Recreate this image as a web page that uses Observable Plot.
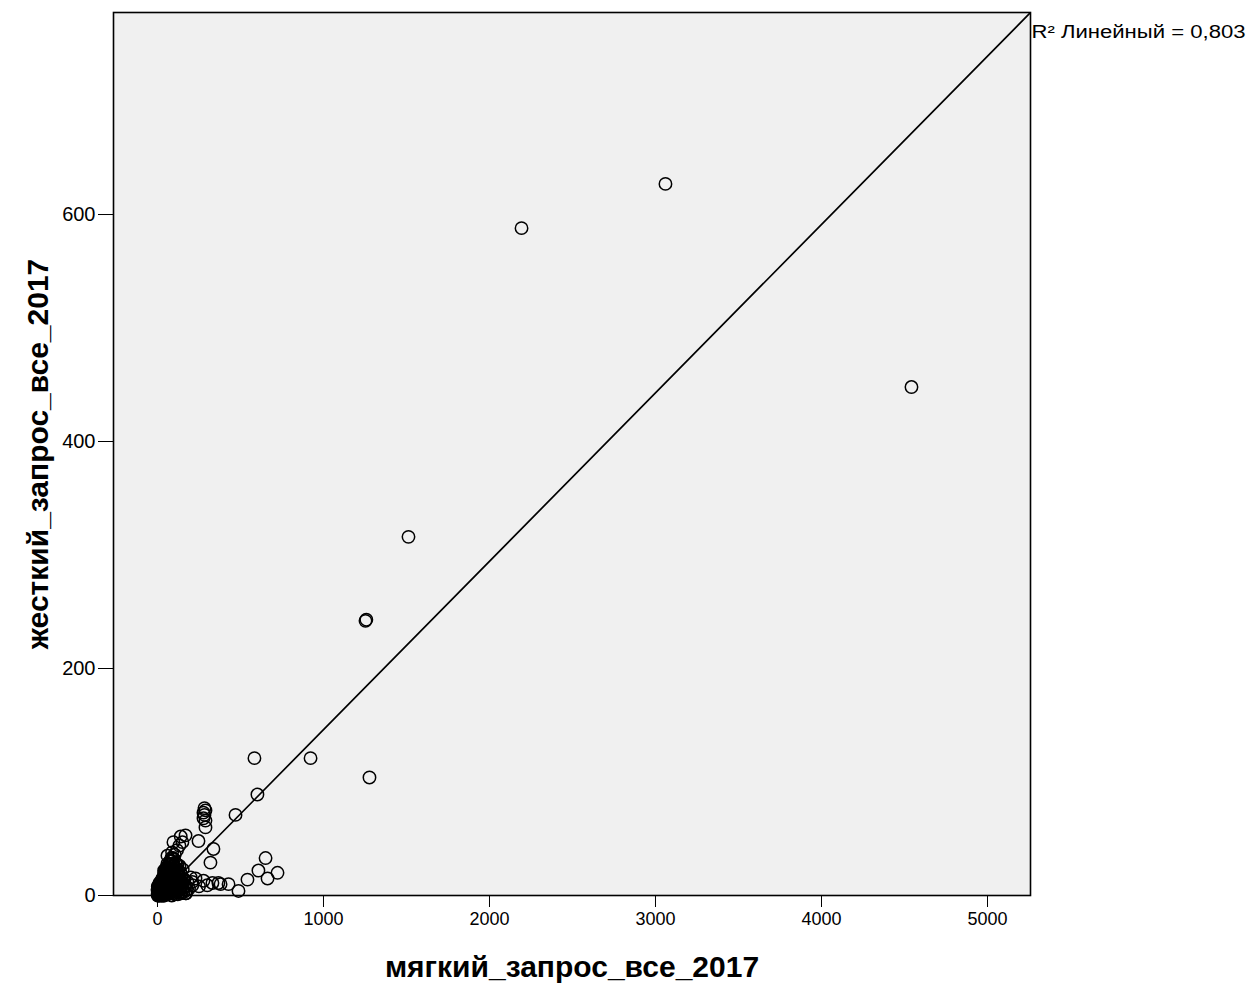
<!DOCTYPE html>
<html>
<head>
<meta charset="utf-8">
<script src="https://cdn.jsdelivr.net/npm/d3@7"></script>
<script src="https://cdn.jsdelivr.net/npm/@observablehq/plot@0.6"></script>
<style>
  html, body { margin: 0; padding: 0; background: #ffffff; }
  #chart svg { display: block; }
</style>
</head>
<body>
<div id="chart"></div>
<script>
// Axis titles and annotation
const xTitle = "мягкий_запрос_все_2017";
const yTitle = "жесткий_запрос_все_2017";
const r2Label = "R² Линейный = 0,803";

// Tick values
const xTicks = [0, 1000, 2000, 3000, 4000, 5000];
const yTicks = [0, 200, 400, 600];

// Soft-query values (x) and hard-query values (y)
const softOutliers = [3060, 2193, 4542, 1512, 1253, 1258, 584, 922, 1277, 602, 470,
  283, 289, 277, 283, 277, 289, 289, 247, 169, 96, 337, 319,
  651, 608, 723, 663, 542, 428, 488, 229, 277, 331, 367, 380, 300, 250, 210];
const hardOutliers = [627, 588, 448, 316, 242, 243, 121, 121, 104, 89, 71,
  77, 75, 73, 71, 68, 66, 60, 48, 53, 47, 41, 29,
  33, 22, 20, 15, 14, 10, 4, 15, 13, 11, 11, 10, 9, 8, 12];

const softTower = [2, 5, 8, 3, 10, 15, 12, 20, 25, 4, 18, 30, 35, 40, 28, 4, 20, 18, 45, 50,
  55, 60, 38, 35, 28, 48, 65, 70, 75, 80, 45, 32, 52, 62, 85, 90, 95, 100, 40, 50,
  58, 72, 88, 105, 110, 115, 120, 55, 60, 66, 82, 98, 125, 130, 135, 140, 80, 78, 94, 112,
  145, 150, 155, 160, 165, 170, 60, 88, 104, 118, 132, 150, 140, 180, 190, 200, 210];
const hardTower = [0, 1, 2, 3, 0, 1, 4, 2, 0, 6, 7, 3, 1, 0, 8, 6, 9, 8, 4, 2,
  6, 1, 14, 16, 12, 10, 8, 3, 12, 5, 19, 14, 18, 15, 9, 2, 14, 7, 22, 23,
  22, 20, 18, 11, 4, 16, 9, 25, 28, 27, 25, 23, 20, 6, 13, 3, 31, 30, 33, 28,
  18, 10, 5, 14, 8, 2, 35, 38, 36, 40, 44, 47, 52, 12, 6, 16, 9];

const softBlob = [1, 0, 3, 2, 4, 6, 7, 9, 8, 11, 13, 12, 14, 16, 18, 17, 19, 21, 23, 22,
  24, 27, 26, 29, 31, 30, 33, 34, 36, 37, 39, 41, 40, 43, 44, 46, 47, 49, 52, 51,
  54, 56, 57, 59, 61, 60, 63, 65, 66, 68, 71, 70, 73, 74, 77, 79, 78, 81, 83, 84,
  86, 88, 87, 91, 92, 94, 96, 97, 99, 102, 101, 104, 106, 108, 111, 113, 112, 116, 118, 121,
  123, 122, 126, 128, 131, 134, 133, 137, 139, 142, 146, 144, 149, 152, 155, 158, 163, 167, 172, 176];
const hardBlob = [1, 5, 2, 8, 4, 0, 6, 3, 9, 1, 7, 11, 4, 9, 2, 9, 6, 11, 0, 10,
  8, 4, 14, 14, 2, 10, 6, 16, 13, 0, 17, 9, 20, 3, 19, 12, 6, 22, 15, 23,
  1, 10, 18, 25, 7, 24, 13, 21, 3, 16, 27, 9, 28, 2, 19, 12, 24, 6, 33, 15,
  0, 22, 28, 10, 18, 4, 26, 13, 32, 7, 21, 1, 16, 29, 11, 24, 3, 19, 8, 27,
  14, 1, 22, 10, 17, 5, 26, 13, 20, 2, 9, 16, 6, 23, 11, 3, 14, 8, 2, 5];

// Fit line endpoints (linear fit as drawn)
const fitSoft = [15, 5259];
const fitHard = [0, 778];

const points = softOutliers.map((x, i) => ({x, y: hardOutliers[i]}))
  .concat(softTower.map((x, i) => ({x, y: hardTower[i]})))
  .concat(softBlob.map((x, i) => ({x, y: hardBlob[i]})));
const fitLine = fitSoft.map((x, i) => ({x, y: fitHard[i]}));

const chart = Plot.plot({
  width: 1251,
  height: 990,
  marginLeft: 113,
  marginRight: 221,
  marginTop: 12,
  marginBottom: 95,
  style: {background: "#ffffff", color: "#000000", fontFamily: "Liberation Sans, Arial, sans-serif"},
  x: {domain: [-265, 5259]},
  y: {domain: [0, 778]},
  marks: [
    Plot.frame({fill: "#f0f0f0", stroke: null}),
    Plot.dot(points, {x: "x", y: "y", r: 6.2, stroke: "#000", strokeWidth: 1.5, fill: "none"}),
    Plot.line(fitLine, {x: "x", y: "y", stroke: "#000", strokeWidth: 1.7, clip: true}),
    Plot.frame({stroke: "#000", strokeWidth: 1.6}),
    Plot.axisX({ticks: xTicks, tickSize: 12, tickPadding: 5, fontSize: 18, label: null, tickFormat: d => String(d)}),
    Plot.axisY({ticks: yTicks, tickSize: 15, tickPadding: 3, fontSize: 20, label: null, tickFormat: d => String(d)}),
    Plot.text([xTitle], {frameAnchor: "bottom", textAnchor: "middle", dy: 81, fontSize: 30, fontWeight: "bold"}),
    Plot.text([yTitle], {frameAnchor: "left", textAnchor: "middle", dx: -75, rotate: -90, fontSize: 30, fontWeight: "bold"}),
    Plot.text([r2Label], {x: fitSoft[1], y: fitHard[1], textAnchor: "start", dx: 1, dy: 20, fontSize: 18})
  ]
});
d3.select(chart).selectAll("text")
  .filter(function() { return this.textContent === r2Label; })
  .attr("textLength", 214)
  .attr("lengthAdjust", "spacingAndGlyphs");
document.getElementById("chart").appendChild(chart);
</script>
</body>
</html>
